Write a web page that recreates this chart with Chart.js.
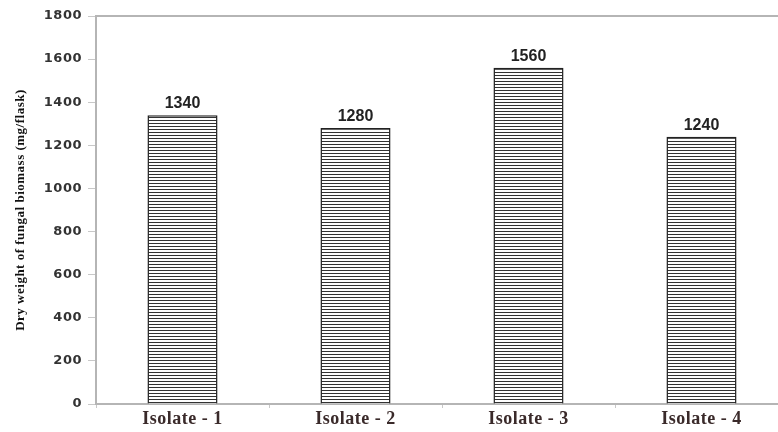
<!DOCTYPE html>
<html><head><meta charset="utf-8">
<script src="https://cdn.jsdelivr.net/npm/chart.js@4"></script>
<style>html,body{margin:0;padding:0;background:#fff;overflow:hidden}#wrap{width:800px;height:432px}</style>
</head><body>
<div id="wrap"><canvas id="c" width="800" height="432"></canvas></div>
<script>
const categories = ['Isolate - 1', 'Isolate - 2', 'Isolate - 3', 'Isolate - 4'];
const biomass = [1340, 1280, 1560, 1240];
const yTicks = [0, 200, 400, 600, 800, 1000, 1200, 1400, 1600, 1800];
const yTitle = 'Dry weight of fungal biomass (mg/flask)';

const pc = document.createElement('canvas');
pc.width = 4; pc.height = 3;
const px = pc.getContext('2d');
px.fillStyle = '#fff'; px.fillRect(0,0,4,3);
px.fillStyle = '#333'; px.fillRect(0,0,4,1);
const ctx = document.getElementById('c').getContext('2d');
const stripes = ctx.createPattern(pc, 'repeat');

const spacingPlugin = {
  id: 'spacing',
  beforeDraw(chart) { chart.ctx.letterSpacing = '0.5px'; },
  beforeDatasetsDraw(chart) { chart.ctx.letterSpacing = '0px'; }
};
const labelsPlugin = {
  id: 'vals',
  afterDatasetsDraw(chart) {
    const c = chart.ctx;
    const meta = chart.getDatasetMeta(0);
    c.save();
    c.letterSpacing = '0px';
    c.font = 'bold 16px "Liberation Sans", Arial';
    c.fillStyle = '#222';
    c.textAlign = 'center';
    c.textBaseline = 'alphabetic';
    meta.data.forEach((el, i) => {
      c.fillText(String(biomass[i]), el.x, el.y - 7);
    });
    c.restore();
  }
};
const borderPlugin = {
  id: 'topline',
  beforeDatasetsDraw(chart) {
    const a = chart.chartArea, c = chart.ctx;
    c.save();
    c.strokeStyle = '#b5b5b5';
    c.lineWidth = 2;
    c.beginPath();
    c.moveTo(a.left, a.top);
    c.lineTo(a.right + 20, a.top);
    c.stroke();
    c.restore();
  }
};

new Chart(ctx, {
  type: 'bar',
  data: {
    labels: categories,
    datasets: [{
      data: biomass,
      backgroundColor: stripes,
      borderColor: '#222',
      borderWidth: 1.5,
      barPercentage: 0.405,
      categoryPercentage: 1.0
    }]
  },
  options: {
    responsive: false,
    animation: false,
    events: [],
    layout: { padding: { left: 4, right: 12, top: 16, bottom: 0 } },
    plugins: { legend: { display: false }, tooltip: { enabled: false } },
    scales: {
      x: {
        grid: { display: true, drawOnChartArea: false, offset: true, color: '#c8c8c8', tickLength: 4 },
        border: { color: '#b5b5b5', width: 2 },
        ticks: { color: '#3a2a2a', font: { family: '"Liberation Serif", "Times New Roman"', weight: 'bold', size: 18 }, padding: 1 },
        afterFit(s) { s.height = 28; }
      },
      y: {
        min: 0, max: 1800,
        afterBuildTicks(s) { s.ticks = yTicks.map(v => ({ value: v })); },
        grid: { display: true, drawOnChartArea: false, color: '#c8c8c8', tickLength: 8 },
        border: { color: '#b5b5b5', width: 2 },
        ticks: { color: '#333', font: { family: '"DejaVu Sans", Arial', weight: 'bold', size: 13 }, padding: 6, callback: (v) => String(v) },
        title: { display: true, text: yTitle, color: '#111', font: { family: '"Liberation Serif", "Times New Roman"', weight: 'bold', size: 13 }, padding: { top: 9, bottom: 4 } },
        afterFit(s) { s.width = 92; }
      }
    }
  },
  plugins: [spacingPlugin, borderPlugin, labelsPlugin]
});
</script>
</body></html>
